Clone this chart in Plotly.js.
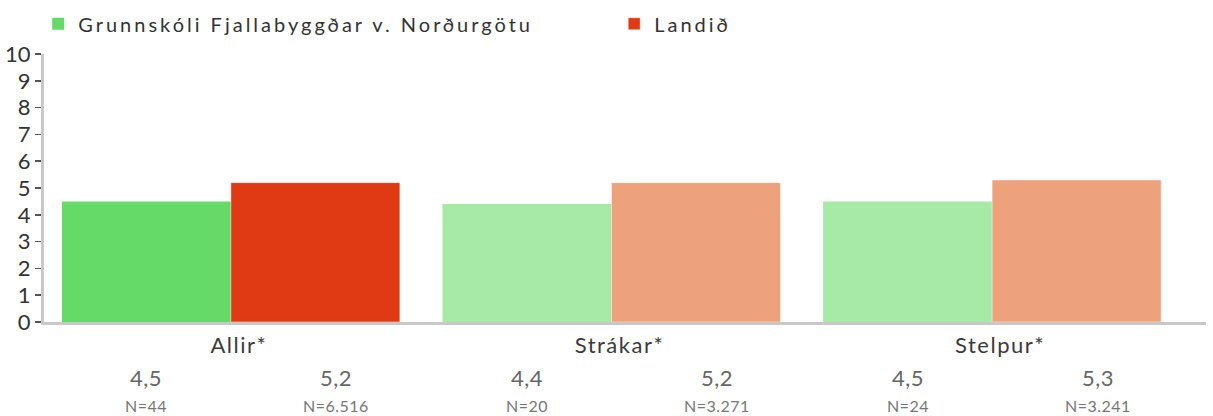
<!DOCTYPE html>
<html>
<head>
<meta charset="utf-8">
<script src="https://cdn.plot.ly/plotly-3.0.1.min.js"></script>
<style>
  html, body { margin: 0; padding: 0; background: #fff; }
  #chart { width: 1213px; height: 416px; }
  .legendtext { letter-spacing: 3px; }
  .xtick text { letter-spacing: 1.5px; }
  .annotation-text { letter-spacing: 0.5px; }
</style>
</head>
<body>
<div id="chart"></div>
<script>
// ---- data ----
const categories = ["Allir*", "Strákar*", "Stelpur*"];
const seriesNames = ["Grunnskóli Fjallabyggðar v. Norðurgötu", "Landið"];
const schoolValues = [4.5, 4.4, 4.5];
const countryValues = [5.2, 5.2, 5.3];
const schoolN = [44, 20, 24];
const countryN = [6516, 3271, 3241];
const yTicks = [0, 1, 2, 3, 4, 5, 6, 7, 8, 9, 10];

// ---- styles ----
const schoolColors = ["#66DA69", "#A6EAA6", "#A6EAA6"];
const countryColors = ["#DF3A14", "#EEA27C", "#EEA27C"];
const FONT = "Lato, 'Open Sans', sans-serif";

function fmtDec(v) { return v.toFixed(1).replace(".", ","); }
function fmtInt(n) { return String(n).replace(/\B(?=(\d{3})+(?!\d))/g, "."); }

const traces = [
  {
    type: "bar", name: seriesNames[0], x: categories, y: schoolValues,
    marker: { color: schoolColors, line: { width: 0 } },
    hoverinfo: "none"
  },
  {
    type: "bar", name: seriesNames[1], x: categories, y: countryValues,
    marker: { color: countryColors, line: { width: 1, color: "rgba(255,255,255,0.45)" } },
    hoverinfo: "none"
  }
];

const annotations = [];
const greenOffset = -0.222, redOffset = 0.277;
categories.forEach((c, i) => {
  annotations.push({ xref: "x", yref: "paper", x: i + greenOffset, y: -0.207, text: fmtDec(schoolValues[i]),
    showarrow: false, xanchor: "center", yanchor: "middle", font: { family: FONT, size: 22, color: "#666" } });
  annotations.push({ xref: "x", yref: "paper", x: i + redOffset, y: -0.207, text: fmtDec(countryValues[i]),
    showarrow: false, xanchor: "center", yanchor: "middle", font: { family: FONT, size: 22, color: "#666" } });
  annotations.push({ xref: "x", yref: "paper", x: i + greenOffset, y: -0.31, text: "N=" + fmtInt(schoolN[i]),
    showarrow: false, xanchor: "center", yanchor: "middle", font: { family: FONT, size: 16, color: "#777" } });
  annotations.push({ xref: "x", yref: "paper", x: i + redOffset, y: -0.31, text: "N=" + fmtInt(countryN[i]),
    showarrow: false, xanchor: "center", yanchor: "middle", font: { family: FONT, size: 16, color: "#777" } });
});

const layout = {
  width: 1213, height: 416,
  margin: { l: 44, r: 7, t: 54, b: 94, pad: 0, autoexpand: false },
  paper_bgcolor: "#fff", plot_bgcolor: "#fff",
  barmode: "group", bargap: 0.112, bargroupgap: 0,
  font: { family: FONT, color: "#333" },
  showlegend: true,
  legend: {
    orientation: "h", x: -0.005, xanchor: "left", y: 1.04, yanchor: "bottom",
    entrywidth: 531, entrywidthmode: "pixels",
    font: { family: FONT, size: 20, color: "#333" },
    itemclick: false, itemdoubleclick: false, traceorder: "normal"
  },
  xaxis: {
    type: "category", range: [-0.491, 2.562],
    showline: true, linecolor: "#c8c8c8", linewidth: 3,
    ticks: "", showgrid: false, zeroline: false,
    tickfont: { family: FONT, size: 22, color: "#3a3a3a" },
    ticklabelshift: 8, ticklabelstandoff: 2, fixedrange: true
  },
  yaxis: {
    range: [0, 10], tickvals: yTicks, ticktext: yTicks.map(String),
    showline: true, linecolor: "#c8c8c8", linewidth: 3,
    ticks: "outside", ticklen: 6, tickwidth: 1.5, tickcolor: "#555",
    showgrid: false, zeroline: false,
    tickfont: { family: FONT, size: 22, color: "#333" }, fixedrange: true
  },
  annotations: annotations
};

Plotly.newPlot("chart", traces, layout, { displayModeBar: false, staticPlot: true });
</script>
</body>
</html>
